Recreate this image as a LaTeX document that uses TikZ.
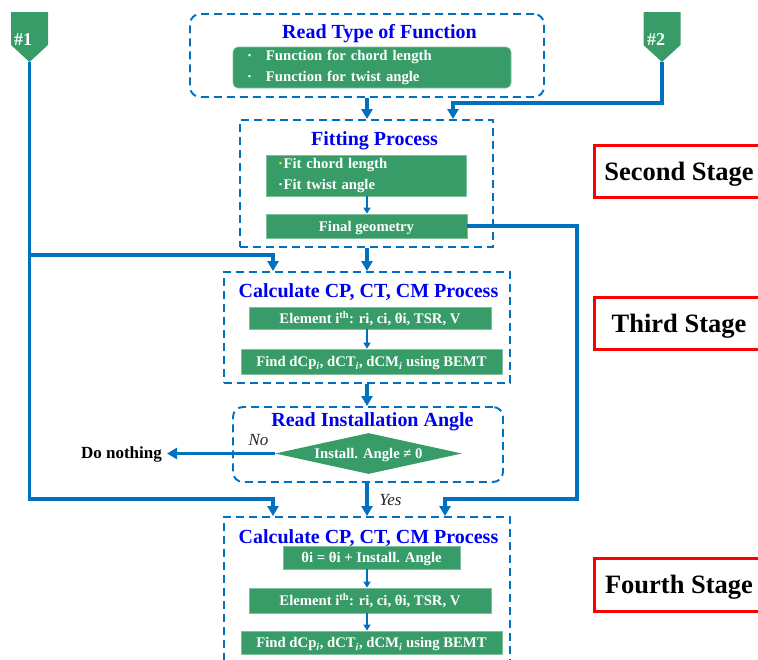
\documentclass[tikz,border=0pt]{standalone}
\usepackage{fontspec}
\setmainfont{Liberation Serif}
\usetikzlibrary{arrows.meta,shapes.geometric,calc}
\definecolor{boxgreen}{HTML}{389C68}
\definecolor{lineblue}{HTML}{0070C0}
\definecolor{titleblue}{HTML}{0000F0}
\definecolor{stagered}{HTML}{FF0000}
\begin{document}
\begin{tikzpicture}[x=1pt,y=-1pt,
 dbox/.style={draw=lineblue, line width=1.9pt, dash pattern=on 8pt off 5pt, inner sep=0pt},
 gbase/.style={fill=boxgreen, draw=boxgreen!65!white, line width=0.7pt, text=white, font=\bfseries\fontsize{14.7}{17.5}\selectfont, inner sep=0pt},
 gbox/.style={gbase, text height=10.8pt, text depth=0pt},
 gboxm/.style={gbase, align=left},
 titletext/.style={text=titleblue, font=\bfseries\fontsize{20}{24}\selectfont, inner sep=0pt, anchor=base},
 main/.style={draw=lineblue, line width=3.6pt},
 mainarrow/.style={main, -{Triangle[width=11pt,length=10pt]}},
 smallarrow/.style={draw=lineblue, line width=1.3pt, -{Triangle[width=7pt,length=6pt]}},
 stagebox/.style={draw=stagered, line width=3pt, fill=white, minimum width=170pt, inner sep=0pt,
   font=\bfseries\fontsize{26.5}{31}\selectfont, text height=18pt, text depth=0pt},
 tagshape/.style={fill=boxgreen},
 tagtext/.style={text=white, font=\bfseries\fontsize{18}{21}\selectfont, inner sep=0pt, anchor=base},
 labeltext/.style={font=\itshape\fontsize{17}{20}\selectfont, inner sep=0pt, anchor=base, text=black!85}
]
\useasboundingbox (0,0) rectangle (758,659);
\clip (0,0) rectangle (758,659);

% ---------- tags ----------
\fill[tagshape] (11,12) -- (48,12) -- (48,45) -- (29.5,62) -- (11,45) -- cycle;
\node[tagtext] (tag1) at (23,45) {\#1};
\coordinate (t1tip) at (29.5,62);
\fill[tagshape] (643.5,12) -- (680.5,12) -- (680.5,45) -- (662,62) -- (643.5,45) -- cycle;
\node[tagtext] (tag2) at (656,45) {\#2};
\coordinate (t2tip) at (662,62);

% ---------- read type of function ----------
\node[dbox, rounded corners=10pt, minimum width=354pt, minimum height=83pt] (RT) at (367,55.5) {};
\node[titletext] (RTt) at (379.5,38) {Read Type of Function};
\node[gboxm, rounded corners=5pt, minimum width=278pt, minimum height=41pt, text width=250pt, inner xsep=14pt]
  (RTg) at (372,67.5) {\makebox[19pt][l]{·}Function for chord length\\[4.2pt]\makebox[19pt][l]{·}Function for twist angle};

% ---------- fitting process ----------
\node[dbox, minimum width=253pt, minimum height=127pt] (Fit) at (366.5,183.5) {};
\node[titletext] (Fitt) at (374.5,145.5) {Fitting Process};
\node[gboxm, minimum width=200pt, minimum height=41pt, text width=176pt, inner xsep=12pt]
  (Fit1) at (366,175.5) {\makebox[5.6pt][l]{\color{yellow}·}Fit chord length\\[4.2pt]\makebox[5.6pt][l]{·}Fit twist angle};
\node[gbox, minimum width=201pt, minimum height=24pt] (Final) at (366.5,226) {Final geometry};

% ---------- third stage ----------
\node[dbox, minimum width=286pt, minimum height=111pt] (CP1) at (367,327.5) {};
\node[titletext] (CP1t) at (368.5,297) {Calculate CP, CT, CM Process};
\node[gbox, minimum width=242pt, minimum height=22pt] (Elem1) at (370,318) {Element i\textsuperscript{th}: ri, ci, θi, TSR, V};
\node[gbox, minimum width=261pt, minimum height=25pt] (Find1) at (371.5,361.5) {Find dCp\textsubscript{\textit{i}}, dCT\textsubscript{\textit{i}}, dCM\textsubscript{\textit{i}} using BEMT};

% ---------- installation angle ----------
\node[dbox, rounded corners=10pt, minimum width=270pt, minimum height=75pt] (Inst) at (368,444.5) {};
\node[titletext] (Instt) at (372.5,426) {Read Installation Angle};
\node[gbox, diamond, aspect=4.56, minimum width=187pt, minimum height=41pt, draw=none] (D) at (368.5,453.5) {Install. Angle ≠ 0};
\node[font=\bfseries\fontsize{17}{20}\selectfont, inner sep=0pt, inner xsep=5pt, anchor=base east] (DN) at (167,458) {Do nothing};
\node[labeltext] (No) at (258.5,445) {No};
\node[labeltext] (Yes) at (390.5,505) {Yes};

% ---------- fourth stage ----------
\node[dbox, minimum width=286pt, minimum height=163pt] (CP2) at (367,598.5) {};
\node[titletext] (CP2t) at (368.5,543) {Calculate CP, CT, CM Process};
\node[gbox, minimum width=177pt, minimum height=23pt] (Theta) at (371.5,557.5) {θi = θi + Install. Angle};
\node[gbox, minimum width=242pt, minimum height=25pt] (Elem2) at (370,600.5) {Element i\textsuperscript{th}: ri, ci, θi, TSR, V};
\node[gbox, minimum width=261pt, minimum height=23pt] (Find2) at (371.5,642.5) {Find dCp\textsubscript{\textit{i}}, dCT\textsubscript{\textit{i}}, dCM\textsubscript{\textit{i}} using BEMT};

% ---------- stage labels ----------
\node[stagebox, minimum height=52pt] (S2) at (679,171) {Second Stage};
\node[stagebox, minimum height=52pt] (S3) at (679,323) {Third Stage};
\node[stagebox, minimum height=53pt] (S4) at (679,584.5) {Fourth Stage};

% ---------- connectors ----------
\coordinate (j2) at (453,103);
\coordinate (e1a) at (273,255);
\coordinate (e1b) at (273,499);
\coordinate (e3) at (577,499);
\coordinate (e3b) at (445,499);

\draw[mainarrow] (RT.south) -- (RT.south |- Fit.north);
\draw[mainarrow] (t2tip) |- (j2) -- (j2 |- Fit.north);
\draw[mainarrow] (RT.south |- Fit.south) -- (RT.south |- CP1.north);
\draw[mainarrow] (CP1.south) -- (CP1.south |- Inst.north);
\draw[mainarrow] (CP1.south |- Inst.south) -- (CP1.south |- CP2.north);
\draw[mainarrow] (D.west) -- (D.west -| DN.east);
\draw[mainarrow] (t1tip) |- (e1a) -- (e1a |- CP1.north);
\draw[mainarrow] (t1tip) |- (e1b) -- (e1b |- CP2.north);
\draw[mainarrow] (Final.east) -| (e3) -- (e3b) -- (e3b |- CP2.north);

\draw[smallarrow] (RT.south |- Fit1.south) -- (RT.south |- Final.north);
\draw[smallarrow] (CP1.south |- Elem1.south) -- (CP1.south |- Find1.north);
\draw[smallarrow] (CP2.north |- Theta.south) -- (CP2.north |- Elem2.north);
\draw[smallarrow] (CP2.north |- Elem2.south) -- (CP2.north |- Find2.north);
\end{tikzpicture}
\end{document}
